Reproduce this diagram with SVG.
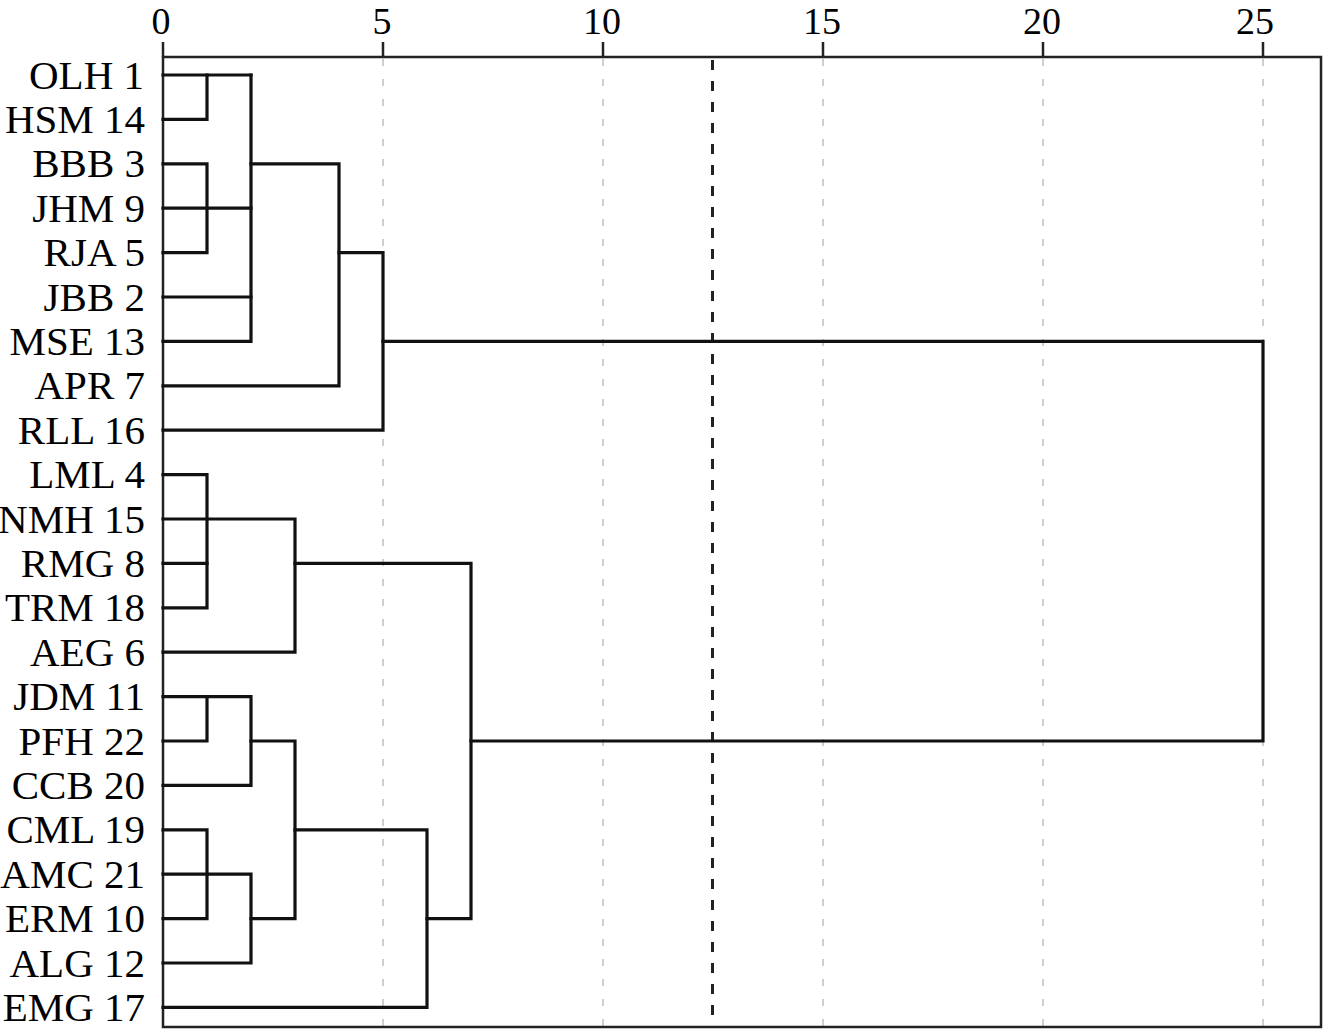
<svg xmlns="http://www.w3.org/2000/svg" width="1332" height="1032" viewBox="0 0 1332 1032">
<style>
.lbl{font-family:"Liberation Serif","Times New Roman",serif;font-size:41px;fill:#000;text-anchor:end}
.ax{font-family:"Liberation Serif","Times New Roman",serif;font-size:38px;fill:#000;text-anchor:middle}
.grid{stroke:#cfcfcf;stroke-width:2;stroke-dasharray:7 13;fill:none}
.cut{stroke:#222;stroke-width:3;stroke-dasharray:10 11;fill:none}
.frame{stroke:#222;stroke-width:2.5;fill:none}
.tick{stroke:#222;stroke-width:2.5}
.den{stroke:#111;stroke-width:3.2;fill:none;stroke-linejoin:miter;stroke-linecap:square}
</style>
<rect width="1332" height="1032" fill="#fff"/>
<g id="grid">
<line class="grid" x1="383" y1="59" x2="383" y2="1026"/>
<line class="grid" x1="603" y1="59" x2="603" y2="1026"/>
<line class="grid" x1="823" y1="59" x2="823" y2="1026"/>
<line class="grid" x1="1043" y1="59" x2="1043" y2="1026"/>
<line class="grid" x1="1263" y1="59" x2="1263" y2="1026"/>
</g>
<g id="axis">
<rect class="frame" x="163" y="57" width="1158" height="970"/>
<line class="tick" x1="163" y1="42" x2="163" y2="57"/>
<line class="tick" x1="383" y1="42" x2="383" y2="57"/>
<line class="tick" x1="603" y1="42" x2="603" y2="57"/>
<line class="tick" x1="823" y1="42" x2="823" y2="57"/>
<line class="tick" x1="1043" y1="42" x2="1043" y2="57"/>
<line class="tick" x1="1263" y1="42" x2="1263" y2="57"/>
<text class="ax" x="161" y="34">0</text>
<text class="ax" x="382" y="34">5</text>
<text class="ax" x="602" y="34">10</text>
<text class="ax" x="822" y="34">15</text>
<text class="ax" x="1042" y="34">20</text>
<text class="ax" x="1255" y="34">25</text>
</g>
<line id="cutoff" class="cut" x1="712.5" y1="60" x2="712.5" y2="1027"/>
<g id="leaves">
<g id="n1"><text class="lbl" x="144" y="88.5">OLH 1</text></g>
<g id="n14"><text class="lbl" x="145" y="132.9">HSM 14</text></g>
<g id="n3"><text class="lbl" x="145" y="177.3">BBB 3</text></g>
<g id="n9"><text class="lbl" x="145" y="221.7">JHM 9</text></g>
<g id="n5"><text class="lbl" x="145" y="266.1">RJA 5</text></g>
<g id="n2"><text class="lbl" x="145" y="310.5">JBB 2</text></g>
<g id="n13"><text class="lbl" x="145" y="354.9">MSE 13</text></g>
<g id="n7"><text class="lbl" x="145" y="399.3">APR 7</text></g>
<g id="n16"><text class="lbl" x="145" y="443.7">RLL 16</text></g>
<g id="n4"><text class="lbl" x="145" y="488.1">LML 4</text></g>
<g id="n15"><text class="lbl" x="145" y="532.5">NMH 15</text></g>
<g id="n8"><text class="lbl" x="145" y="576.9">RMG 8</text></g>
<g id="n18"><text class="lbl" x="145" y="621.3">TRM 18</text></g>
<g id="n6"><text class="lbl" x="145" y="665.7">AEG 6</text></g>
<g id="n11"><text class="lbl" x="145" y="710.1">JDM 11</text></g>
<g id="n22"><text class="lbl" x="145" y="754.5">PFH 22</text></g>
<g id="n20"><text class="lbl" x="145" y="798.9">CCB 20</text></g>
<g id="n19"><text class="lbl" x="145" y="843.3">CML 19</text></g>
<g id="n21"><text class="lbl" x="145" y="887.7">AMC 21</text></g>
<g id="n10"><text class="lbl" x="145" y="932.1">ERM 10</text></g>
<g id="n12"><text class="lbl" x="145" y="976.5">ALG 12</text></g>
<g id="n17"><text class="lbl" x="145" y="1020.9">EMG 17</text></g>
</g>
<g id="connectors" class="den">
<path d="M163,75 H251"/>
<path d="M207,75 V119.4 H163"/>
<path d="M163,163.8 H207 V252.6 H163"/>
<path d="M163,208.2 H251"/>
<path d="M163,297 H251"/>
<path d="M163,341.4 H251 V75"/>
<path d="M251,163.8 H339 V385.8 H163"/>
<path d="M339,252.6 H383 V430.2 H163"/>
<path d="M383,341.4 H1263 V741 H471"/>
<path d="M163,474.6 H207 V607.8 H163"/>
<path d="M163,519 H295 V652.2 H163"/>
<path d="M163,563.4 H207"/>
<path d="M295,563.4 H471 V918.6 H427"/>
<path d="M163,696.6 H251 V785.4 H163"/>
<path d="M207,696.6 V741 H163"/>
<path d="M251,741 H295 V918.6 H251"/>
<path d="M295,829.8 H427 V1007.4 H163"/>
<path d="M163,829.8 H207 V918.6 H163"/>
<path d="M163,874.2 H251 V963 H163"/>
</g>
</svg>
